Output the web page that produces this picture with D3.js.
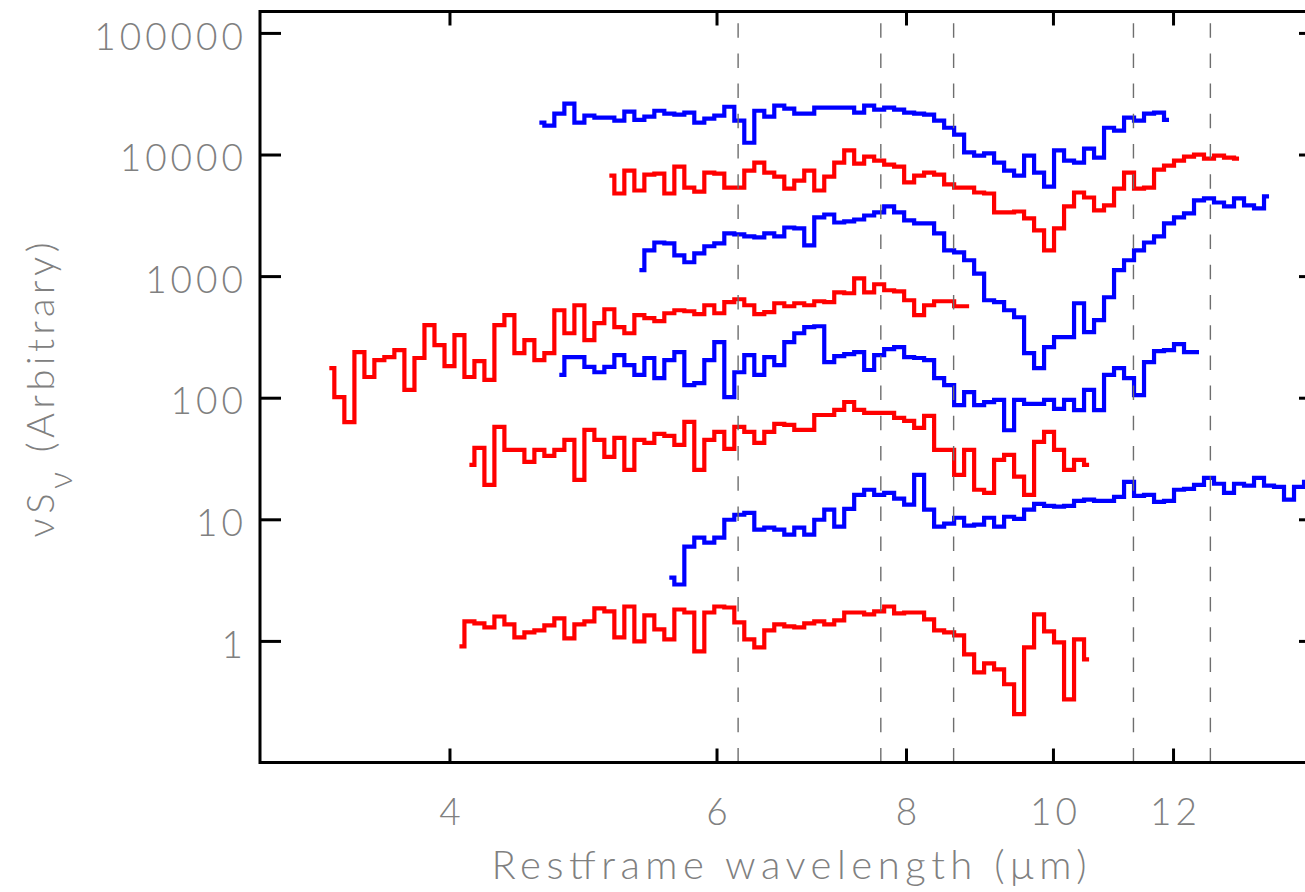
<!DOCTYPE html>
<html>
<head>
<meta charset="utf-8">
<script src="https://cdn.jsdelivr.net/npm/d3@7"></script>
<style>
  html, body { margin: 0; padding: 0; background: #fff; }
  svg { display: block; }
  .lbl { font-family: Lato, "Open Sans", sans-serif; font-weight: 300; fill: #808080; }
</style>
</head>
<body>
<svg id="chart" width="1305" height="892"></svg>
<script>
// rebinned rest-frame wavelength grid (micron), shared by all spectra
const waveGrid = [
  3.333, 3.384, 3.436, 3.489, 3.542, 3.596, 3.651, 3.707, 3.764, 3.822,
  3.880, 3.940, 4.000, 4.061, 4.123, 4.186, 4.250, 4.315, 4.381, 4.448,
  4.516, 4.585, 4.655, 4.726, 4.799, 4.872, 4.947, 5.022, 5.099, 5.177,
  5.256, 5.337, 5.418, 5.501, 5.585, 5.671, 5.757, 5.845, 5.935, 6.025,
  6.118, 6.211, 6.306, 6.403, 6.500, 6.600, 6.701, 6.803, 6.907, 7.013,
  7.120, 7.229, 7.339, 7.451, 7.565, 7.681, 7.798, 7.917, 8.039, 8.161,
  8.286, 8.413, 8.542, 8.672, 8.805, 8.940, 9.076, 9.215, 9.356, 9.499,
  9.644, 9.792, 9.941, 10.093, 10.248, 10.404, 10.564, 10.725, 10.889, 11.056,
  11.225, 11.396, 11.571, 11.748, 11.927, 12.110, 12.295, 12.483, 12.674, 12.868,
  13.065, 13.265, 13.468, 13.674, 13.883, 14.095, 14.311, 14.530, 14.752
];

// index of the first grid bin of each spectrum (top to bottom)
const firstBin = [21, 28, 31, 0, 23, 14, 34, 13];

// nuS_nu of each spectrum, arbitrary offsets, top to bottom
const fluxA = [18300, 17300, 21700, 26200, 18300, 20900, 20100, 20100, 19000, 22500,
  19300, 20500, 22900, 21700, 21300, 22100, 18300, 19700, 20900, 24700,
  19000, 12500, 22900, 20500, 25200, 23800, 21700, 21700, 24300, 24300,
  24300, 24300, 22100, 25200, 23400, 24300, 23400, 22100, 21700, 21300,
  19000, 16600, 14600, 10400, 9790, 10200, 8580, 7380, 6710, 9790,
  7100, 5450, 10800, 8910, 8580, 11200, 9430, 16600, 15700, 20100,
  19000, 21700, 22100, 19300];
const fluxB = [6710, 4780, 7380, 5060, 6840, 6970, 4780, 7960, 5350, 4960,
  7100, 6970, 5350, 5350, 7380, 8580, 7100, 6590, 5250, 6110,
  7380, 5060, 6590, 8580, 10800, 8420, 9610, 8910, 8260, 7960,
  5890, 6710, 7100, 6840, 5670, 5350, 5350, 4870, 4780, 3340,
  3340, 3400, 2980, 2380, 1630, 2470, 3740, 4870, 4430, 3470,
  3810, 5250, 7100, 5250, 5350, 7520, 8110, 8910, 9610, 9980,
  9260, 9790, 9430, 9260];
const fluxC = [1120, 1630, 1890, 1860, 1480, 1300, 1540, 1760, 1860, 2250,
  2200, 2120, 2080, 2250, 2120, 2510, 2470, 1790, 3040, 3210,
  2760, 2820, 2920, 3150, 3340, 3740, 3340, 2870, 2710, 2710,
  2250, 1630, 1570, 1350, 1050, 633, 610, 524, 459, 233,
  175, 261, 315, 315, 598, 346, 434, 670, 1120, 1350,
  1630, 1890, 2120, 2710, 3040, 3280, 4190, 4350, 4030, 3740,
  4350, 3810, 3600, 4520];
const fluxD = [175, 101, 63, 237, 148, 204, 216, 246, 116, 212,
  395, 271, 182, 327, 148, 200, 140, 395, 477, 233,
  297, 204, 233, 524, 339, 576, 297, 410, 534, 380,
  339, 477, 451, 426, 495, 524, 514, 486, 576, 495,
  610, 645, 576, 486, 505, 598, 565, 598, 576, 621,
  610, 736, 723, 959, 736, 857, 765, 750, 633, 477,
  576, 621, 621, 565, 565];
const fluxE = [154, 216, 216, 179, 162, 179, 224, 185, 154, 212,
  145, 204, 237, 127, 132, 204, 286, 101, 162, 224,
  154, 216, 185, 286, 339, 380, 387, 196, 220, 228,
  237, 169, 224, 251, 261, 216, 212, 204, 145, 127,
  87, 111, 87, 92, 96, 54, 96, 89, 89, 96,
  81, 96, 79, 116, 79, 154, 175, 145, 105, 196,
  242, 246, 276, 237, 237];
const fluxF = [28.0, 38.7, 19.2, 57.5, 37.2, 37.2, 29.7, 37.2, 33.2, 37.2,
  45.0, 21.1, 54.3, 45.0, 32.6, 46.7, 25.5, 45.0, 42.5, 50.4,
  48.5, 40.9, 63.2, 25.5, 45.0, 52.3, 38.0, 57.5, 52.3, 42.5,
  52.3, 60.9, 59.7, 54.3, 54.3, 72.1, 72.1, 79.3, 92.2, 79.3,
  74.9, 74.9, 74.9, 68.2, 64.4, 56.4, 70.8, 37.2, 37.2, 23.2,
  37.2, 17.5, 16.5, 30.8, 33.9, 22.4, 15.9, 43.3, 52.3, 37.2,
  25.5, 30.8, 28.0];
const fluxG = [3.32, 2.91, 5.96, 7.06, 6.43, 7.06, 9.92, 10.9, 11.3, 8.22,
  8.53, 8.22, 7.48, 8.53, 7.48, 9.92, 12.0, 8.70, 12.2, 15.9,
  17.5, 15.9, 16.5, 14.8, 13.2, 23.2, 12.0, 8.70, 9.20, 10.3,
  8.86, 9.03, 10.3, 8.70, 10.5, 10.1, 12.0, 13.4, 12.9, 12.7,
  12.9, 14.2, 14.5, 14.2, 14.2, 15.3, 20.3, 15.6, 15.9, 13.9,
  14.2, 17.5, 17.8, 19.2, 21.9, 19.6, 16.5, 19.6, 18.9, 21.9,
  18.9, 18.5, 14.5, 18.5, 20.3];
const fluxH = [0.901, 1.445, 1.392, 1.290, 1.588, 1.366, 1.068, 1.174, 1.219, 1.340,
  1.530, 1.048, 1.366, 1.445, 1.848, 1.746, 1.068, 1.919, 0.991, 1.619,
  1.243, 1.029, 1.813, 1.713, 0.820, 1.713, 1.919, 1.883, 1.418, 1.029,
  0.884, 1.219, 1.366, 1.315, 1.290, 1.392, 1.445, 1.366, 1.473, 1.713,
  1.713, 1.650, 1.746, 1.919, 1.681, 1.713, 1.713, 1.501, 1.219, 1.174,
  1.110, 0.775, 0.552, 0.654, 0.584, 0.440, 0.250, 0.884, 1.650, 1.197,
  0.972, 0.331, 1.029, 0.705];

// PAH feature wavelengths marked with dashed lines
const featureLines = [6.2, 7.7, 8.6, 11.3, 12.7];
const xTicks = [4, 6, 8, 10, 12];
const yTicks = [1, 10, 100, 1000, 10000, 100000];

const config = {
  box: { left: 260, right: 1320, top: 11.5, bottom: 762.5 },
  colores: ["#0000ff", "#ff0000", "#0000ff", "#ff0000", "#0000ff", "#ff0000", "#0000ff", "#ff0000"],
  fontSize: 37
};

const fluxes = [fluxA, fluxB, fluxC, fluxD, fluxE, fluxF, fluxG, fluxH];
const spectra = fluxes.map((f, i) => f.map((v, j) => ({ w: waveGrid[firstBin[i] + j], f: v })));

const svg = d3.select("#chart");
const b = config.box;

svg.append("rect").attr("width", 1305).attr("height", 892).attr("fill", "#fff");

const x = d3.scaleLog().domain([3, 15]).range([b.left, b.right]);
const y = d3.scaleLog().domain([0.1, 150000]).range([b.bottom, b.top]);

const line = d3.line()
  .x(d => x(d.w))
  .y(d => y(d.f))
  .curve(d3.curveStep);

// spectra, bottom one first
const grupoSpec = svg.append("g").attr("class", "spectra");
d3.range(spectra.length).reverse().forEach(i => {
  grupoSpec.append("path")
    .datum(spectra[i])
    .attr("d", line)
    .attr("fill", "none")
    .attr("stroke", config.colores[i])
    .attr("stroke-width", 4.2)
    .attr("stroke-linejoin", "miter");
});

// feature lines
svg.append("g").selectAll("line")
  .data(featureLines)
  .enter().append("line")
  .attr("x1", d => x(d)).attr("x2", d => x(d))
  .attr("y1", b.bottom).attr("y2", b.top)
  .attr("stroke", "#6e6e6e")
  .attr("stroke-width", 1.4)
  .attr("stroke-dasharray", "14.5,15.7");

// axes with inward ticks
const gx = svg.append("g").attr("transform", `translate(0,${b.bottom})`)
  .call(d3.axisBottom(x).tickValues(xTicks).tickFormat(d3.format("d")).tickSize(-14).tickPadding(35));
const gxTop = svg.append("g").attr("transform", `translate(0,${b.top})`)
  .call(d3.axisTop(x).tickValues(xTicks).tickFormat("").tickSize(-14));
const gy = svg.append("g").attr("transform", `translate(${b.left},0)`)
  .call(d3.axisLeft(y).tickValues(yTicks).tickFormat(d3.format("d")).tickSize(-21).tickPadding(13));
const gyRight = svg.append("g").attr("transform", `translate(${b.right},0)`)
  .call(d3.axisRight(y).tickValues(yTicks).tickFormat("").tickSize(-21));

[gx, gxTop, gy, gyRight].forEach(g => {
  g.select(".domain").remove();
  g.selectAll(".tick line").attr("stroke", "#000").attr("stroke-width", 3);
  g.selectAll(".tick text")
    .attr("class", "lbl")
    .attr("font-size", config.fontSize)
    .attr("fill", "#808080")
    .style("letter-spacing", "4px");
});
gy.selectAll(".tick text").attr("dy", "0.44em");
gx.selectAll(".tick text").attr("dy", "0.74em").attr("dx", "2px");

svg.append("rect")
  .attr("x", b.left).attr("y", b.top)
  .attr("width", b.right - b.left).attr("height", b.bottom - b.top)
  .attr("fill", "none").attr("stroke", "#000").attr("stroke-width", 3);

// titles
svg.append("text")
  .attr("class", "lbl")
  .attr("x", 789).attr("y", 879)
  .attr("text-anchor", "middle")
  .attr("font-size", 40)
  .attr("textLength", 595)
  .attr("lengthAdjust", "spacing")
  .text("Restframe wavelength (\u03bcm)");

const ty = svg.append("text")
  .attr("class", "lbl")
  .attr("transform", "translate(54,390) rotate(-90)")
  .attr("text-anchor", "middle")
  .attr("font-size", 38)
  .attr("textLength", 295)
  .attr("lengthAdjust", "spacing");
ty.append("tspan").text("\u03bdS");
ty.append("tspan").attr("dy", 18).attr("font-size", 34).text("\u03bd");
ty.append("tspan").attr("dy", -18).text(" (Arbitrary)");
</script>
</body>
</html>
